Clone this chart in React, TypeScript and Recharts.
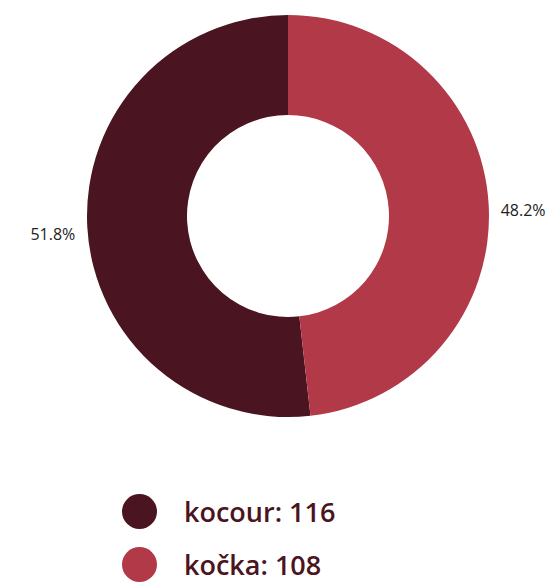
import React from "react";
import { PieChart, Pie, Cell, Legend } from "recharts";

const categories = ["kocour", "kočka"];
const values = [116, 108];
const colors = ["#4a1420", "#b23a48"];

const data = categories.map((name, i) => ({ name, value: values[i] }));
const total = values.reduce((a, b) => a + b, 0);

const RADIAN = Math.PI / 180;

const renderLabel = (props: any) => {
  const { cx, cy, midAngle, outerRadius, value } = props;
  const r = outerRadius + 12;
  const x = cx + r * Math.cos(-midAngle * RADIAN);
  const y = cy + r * Math.sin(-midAngle * RADIAN) + 6;
  const pct = ((value / total) * 100).toFixed(1) + "%";
  return (
    <text
      x={x}
      y={y}
      fill="#222222"
      fontSize={16}
      fontFamily="'Open Sans', sans-serif"
      textAnchor={x > cx ? "start" : "end"}
      dominantBaseline="central"
    >
      {pct}
    </text>
  );
};

const LegendContent = () => (
  <div style={{ fontFamily: "'Open Sans', sans-serif" }}>
    {data.map((d, i) => (
      <div
        key={d.name}
        style={{
          display: "flex",
          alignItems: "center",
          height: 36,
          marginBottom: i === 0 ? 17 : 0,
        }}
      >
        <div
          style={{
            width: 35,
            height: 35,
            borderRadius: "50%",
            background: colors[i],
            marginRight: 27,
            flexShrink: 0,
          }}
        />
        <span
          style={{
            fontSize: 27,
            lineHeight: "30px",
            fontWeight: 600,
            color: "#4a1420",
            whiteSpace: "nowrap",
            position: "relative",
            top: 1,
          }}
        >
          {d.name}: {d.value}
        </span>
      </div>
    ))}
  </div>
);

export default function App() {
  return (
    <div style={{ position: "absolute", left: 0, top: 0, width: 549, height: 582 }}>
      <PieChart width={549} height={582}>
        <Pie
          data={data}
          dataKey="value"
          nameKey="name"
          cx={283}
          cy={211}
          innerRadius={101}
          outerRadius={201}
          startAngle={90}
          endAngle={450}
          stroke="none"
          label={renderLabel}
          labelLine={false}
          isAnimationActive={false}
        >
          {data.map((d, i) => (
            <Cell key={d.name} fill={colors[i]} />
          ))}
        </Pie>
        <Legend
          content={<LegendContent />}
          wrapperStyle={{ position: "absolute", left: 122, top: 493, width: 300 }}
        />
      </PieChart>
    </div>
  );
}
